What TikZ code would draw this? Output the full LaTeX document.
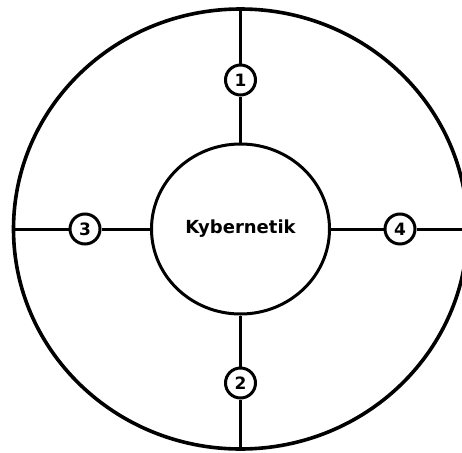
\documentclass[tikz,border=0pt]{standalone}
\usepackage{fontspec}
\setmainfont{DejaVu Sans}
\usetikzlibrary{shapes.geometric}
\tikzset{
  outerring/.style={draw, ellipse, line width=3.6pt, inner sep=0pt, minimum width=454pt, minimum height=440pt},
  core/.style={draw, ellipse, line width=3pt, inner sep=0pt, minimum width=178pt, minimum height=170pt, font=\bfseries\fontsize{18}{20}\selectfont},
  numc/.style={draw, circle, line width=3pt, inner sep=0pt, minimum size=30pt, font=\bfseries\fontsize{17}{18}\selectfont},
  vline/.style={line width=2.3pt},
  hline/.style={line width=3pt},
}
\begin{document}
\begin{tikzpicture}[x=1pt,y=-1pt]
\useasboundingbox (0,0) rectangle (462,452);
\clip (0,0) rectangle (462,452);
\node[outerring] (outer) at (240.5,229) {};
\node[core] (core) at (240.5,229) {Kybernetik};
\node[numc] (n1) at (240.5,80) {1};
\node[numc] (n2) at (240.5,383) {2};
\node[numc] (n3) at (85,229) {3};
\node[numc] (n4) at (400,229) {4};
\coordinate (rend) at (462,229);
\draw[vline] (core.north) -- (n1.south);
\draw[vline] (n1.north) -- (outer.north);
\draw[vline] (core.south) -- (n2.north);
\draw[vline] (n2.south) -- (outer.south);
\draw[hline] (core.west) -- (n3.east);
\draw[hline] (n3.west) -- (outer.west);
\draw[hline] (core.east) -- (n4.west);
\draw[hline] (n4.east) -- (rend);
\end{tikzpicture}
\end{document}
